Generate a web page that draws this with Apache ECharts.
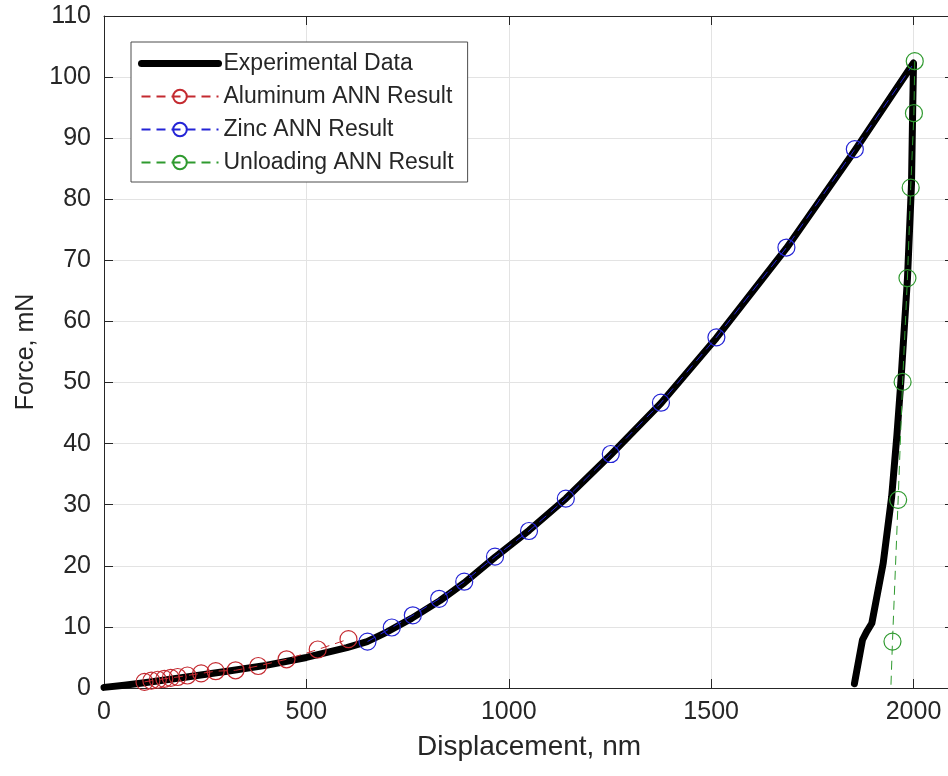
<!DOCTYPE html>
<html>
<head>
<meta charset="utf-8">
<script src="https://cdn.jsdelivr.net/npm/echarts@6/dist/echarts.min.js"></script>
<style>
html,body{margin:0;padding:0;background:#fff;overflow:hidden;}
#chart{width:954px;height:776px;}
</style>
</head>
<body>
<div id="chart"></div>
<script>
// Experimental data (loading + unloading), displacement nm / force mN
var expX = [0, 50, 100, 150, 200, 300, 400, 500, 600, 650, 700, 760, 830, 890, 966, 1050, 1141, 1252, 1376, 1513, 1686, 1855, 2000,
            1998, 1995, 1985, 1969, 1959, 1946, 1925, 1897, 1884, 1874, 1854];
var expY = [0.1, 0.45, 0.85, 1.3, 1.75, 2.7, 3.7, 5.0, 6.6, 7.6, 9.2, 11.4, 14.3, 17.2, 21.4, 25.8, 31.0, 38.2, 46.6, 57.3, 72.0, 88.0, 102.3,
            95.0, 82.5, 67.0, 50.4, 41.4, 31.3, 20.4, 10.6, 9.2, 7.9, 0.7];

var alX = [100, 117, 133, 149, 165, 182, 206, 240, 276, 325, 381, 451, 528, 604];
var alY = [1.0, 1.2, 1.35, 1.5, 1.65, 1.8, 2.05, 2.4, 2.75, 2.9, 3.6, 4.7, 6.3, 8.0];

var znX = [651, 711, 763, 828, 890, 966, 1050, 1141, 1252, 1376, 1513, 1686, 1855, 1996];
var znY = [7.6, 9.9, 11.9, 14.6, 17.4, 21.5, 25.7, 31.0, 38.3, 46.7, 57.4, 72.1, 88.2, 101.8];
var znMarked = [1, 1, 1, 1, 1, 1, 1, 1, 1, 1, 1, 1, 1, 0];

var unX = [2003, 2001, 1993, 1985, 1973, 1962, 1948, 1944];
var unY = [102.6, 94.1, 81.9, 67.1, 50.1, 30.8, 7.6, 0];
var unMarked = [1, 1, 1, 1, 1, 1, 1, 0];

var xTicks = [0, 500, 1000, 1500, 2000];
var yTicks = [0, 10, 20, 30, 40, 50, 60, 70, 80, 90, 100, 110];

var names = ['Experimental Data', 'Aluminum ANN Result', 'Zinc ANN Result', 'Unloading ANN Result'];
var colors = ['#000000', '#c42a30', '#2424d6', '#2f9a2f'];

function pairs(xs, ys, marked) {
  return xs.map(function (x, i) {
    var item = { value: [x, ys[i]] };
    if (marked && !marked[i]) item.symbol = 'none';
    return item;
  });
}

var TXT = '#262626';
var FONT = 'Liberation Sans, Arial, sans-serif';
var chart = echarts.init(document.getElementById('chart'), null, { renderer: 'canvas' });

var baseX = {
  type: 'value', min: 0, max: 2100, interval: 500,
  axisLine: { show: true, onZero: false, lineStyle: { color: TXT, width: 1 } },
  axisTick: { show: true, inside: true, length: 9, lineStyle: { color: TXT } },
  splitLine: { show: false }
};
var baseY = {
  type: 'value', min: 0, max: 110, interval: 10,
  axisLine: { show: true, onZero: false, lineStyle: { color: TXT, width: 1 } },
  axisTick: { show: true, inside: true, length: 9, lineStyle: { color: TXT } },
  splitLine: { show: false }
};

function markerSeries(idx, xs, ys, marked, z) {
  return {
    name: names[idx], type: 'line', xAxisIndex: 0, yAxisIndex: 0,
    data: pairs(xs, ys, marked), symbol: 'circle', symbolSize: 17, showAllSymbol: true,
    lineStyle: { color: colors[idx], width: 1, type: [9, 6] },
    itemStyle: { color: 'rgba(255,255,255,0)', borderColor: colors[idx], borderWidth: 1.2 }, z: z
  };
}

var option = {
  animation: false,
  backgroundColor: '#ffffff',
  textStyle: { fontFamily: FONT },
  grid: { left: 104, top: 16, right: 0, bottom: 88, containLabel: false },
  xAxis: [
    Object.assign({}, baseX, {
      position: 'bottom',
      name: 'Displacement, nm', nameLocation: 'middle', nameGap: 45,
      nameTextStyle: { fontSize: 28, color: TXT, fontFamily: FONT },
      axisLabel: { show: true, fontSize: 25, color: TXT, margin: 12, fontFamily: FONT, showMaxLabel: false,
        formatter: function (v) { return xTicks.indexOf(v) >= 0 ? String(v) : ''; } },
      splitLine: { show: true, lineStyle: { color: '#e3e3e3', width: 1 } }
    }),
    Object.assign({}, baseX, { position: 'top', axisLabel: { show: false } })
  ],
  yAxis: [
    Object.assign({}, baseY, {
      position: 'left',
      name: 'Force, mN', nameLocation: 'middle', nameGap: 51,
      nameTextStyle: { fontSize: 25, color: TXT, fontFamily: FONT },
      axisLabel: { show: true, fontSize: 25, color: TXT, margin: 13, fontFamily: FONT,
        formatter: function (v) { return yTicks.indexOf(v) >= 0 ? String(v) : ''; } },
      splitLine: { show: true, lineStyle: { color: '#e3e3e3', width: 1 } }
    }),
    Object.assign({}, baseY, { position: 'right', axisLabel: { show: false } })
  ],
  legend: {
    orient: 'vertical', left: 131, top: 42,
    padding: [10, 14, 8, 7],
    itemWidth: 77, itemHeight: 17, itemGap: 10,
    borderColor: '#4d4d4d', borderWidth: 1, backgroundColor: '#ffffff',
    textStyle: { fontSize: 23, color: TXT, fontFamily: FONT, padding: [0, 0, 0, 0], lineHeight: 22 },
    data: [
      { name: names[0], lineStyle: { width: 7, color: '#000' }, itemStyle: { color: 'rgba(0,0,0,0)', borderWidth: 0, opacity: 0 } },
      { name: names[1] },
      { name: names[2] },
      { name: names[3] }
    ]
  },
  series: [
    {
      name: names[0], type: 'line', xAxisIndex: 0, yAxisIndex: 0,
      data: pairs(expX, expY), showSymbol: false, symbol: 'none', smooth: false,
      lineStyle: { color: '#000000', width: 7, cap: 'round', join: 'round' },
      itemStyle: { color: '#000000' }, z: 2
    },
    markerSeries(1, alX, alY, null, 3),
    markerSeries(2, znX, znY, znMarked, 4),
    markerSeries(3, unX, unY, unMarked, 5)
  ]
};
chart.setOption(option);
</script>
</body>
</html>
